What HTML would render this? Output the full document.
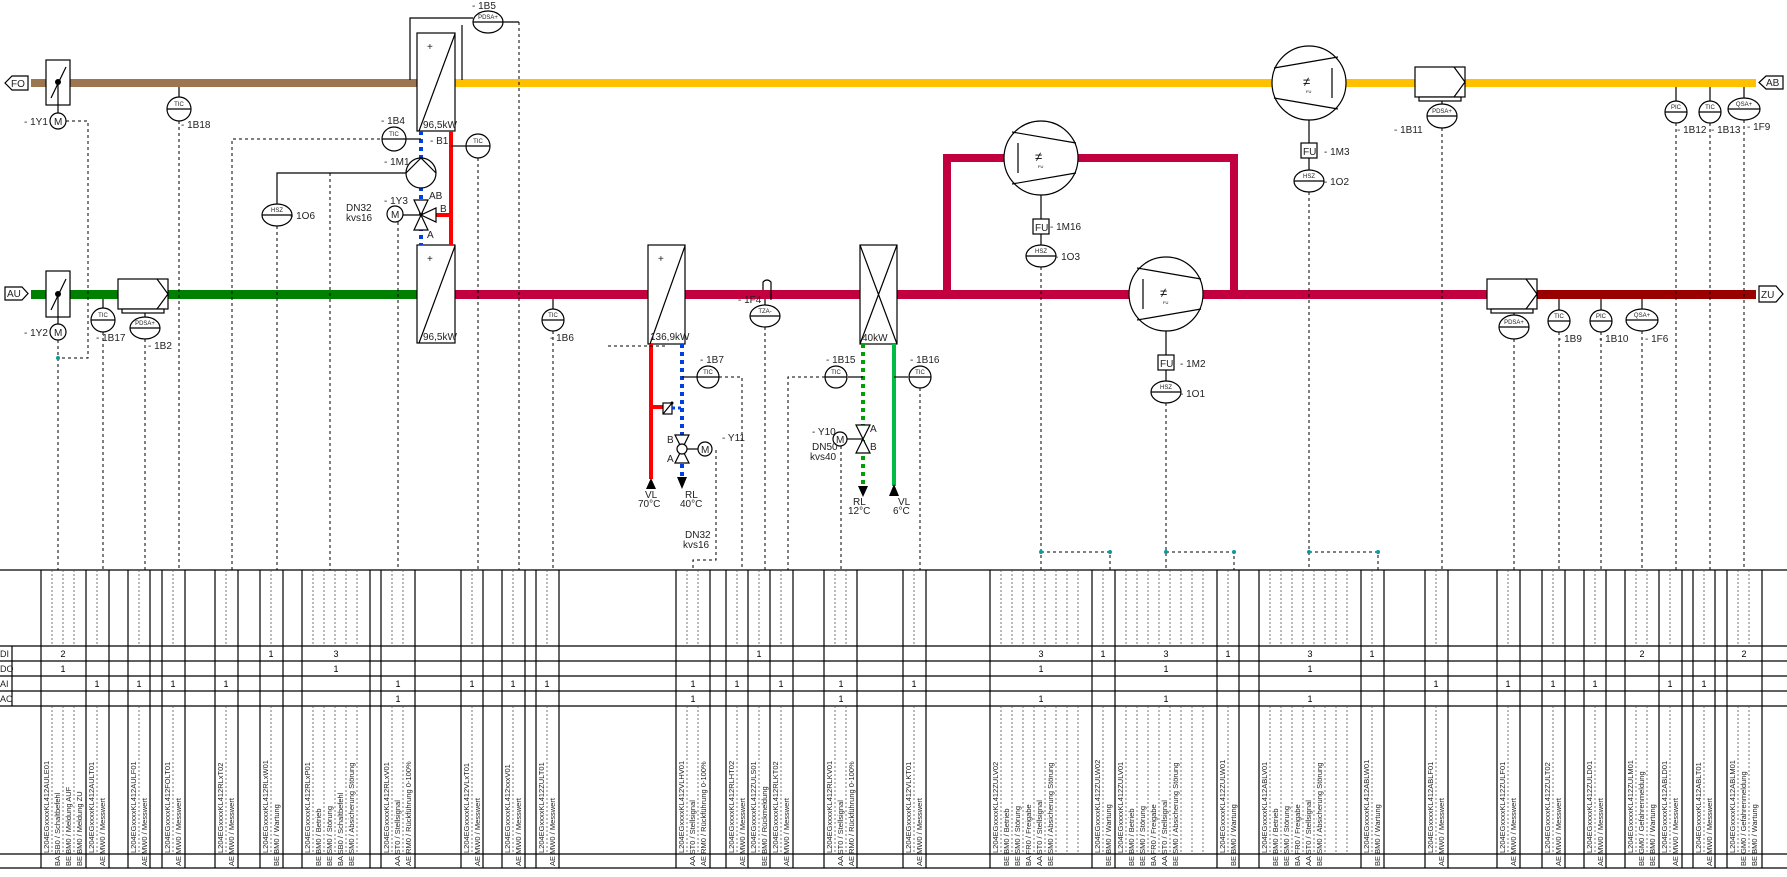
<!DOCTYPE html>
<html><head><meta charset="utf-8"><style>
html,body{margin:0;padding:0;background:#fff;}
svg{display:block;font-family:"Liberation Sans",sans-serif;}
.l{font-size:10px;fill:#222;}
.s{font-size:6px;fill:#222;}
.t{font-size:7.5px;fill:#222;}
.n{font-size:9px;fill:#000;text-anchor:middle;}
.d{stroke:#000;stroke-width:1;stroke-dasharray:3,3;fill:none;}
.dt{stroke:#555;stroke-width:0.8;stroke-dasharray:2,2;fill:none;}
.k{stroke:#000;stroke-width:1.2;fill:none;}
.w{stroke:#000;stroke-width:1.2;fill:#fff;}
</style></head><body>
<svg width="1787" height="877" viewBox="0 0 1787 877" xmlns="http://www.w3.org/2000/svg">
<!-- pipes -->
<rect x="31" y="79" width="386" height="8" fill="#9C7650"/>
<rect x="455" y="79" width="1301" height="8" fill="#FFC000"/>
<rect x="31" y="290" width="386" height="9" fill="#008000"/>
<rect x="455" y="290" width="1032" height="9" fill="#C2003F"/>
<rect x="1537" y="290" width="219" height="9" fill="#990000"/>
<path d="M947 299 V158 H1234 V299" stroke="#C2003F" stroke-width="8" fill="none"/>
<!-- arrows -->
<path d="M28 76 H12 L5 83 L12 90 H28 Z" class="w"/><text x="11" y="87" class="l">FO</text>
<path d="M5 287 H22 L28 293.5 L22 300 H5 Z" class="w"/><text x="7" y="297" class="l">AU</text>
<path d="M1783 76 H1766 L1759 82.5 L1766 89 H1783 Z" class="w"/><text x="1766" y="86" class="l">AB</text>
<path d="M1759 286 H1776 L1783 294 L1776 302 H1759 Z" class="w"/><text x="1761" y="298" class="l">ZU</text>
<!-- dampers -->
<rect x="46" y="60" width="24" height="45" class="w"/><line x1="51" y1="98" x2="66" y2="67" class="k"/><circle cx="58" cy="82" r="3" fill="#000"/><line x1="58" y1="82" x2="58" y2="113" class="k"/>
<circle cx="58" cy="121" r="8" class="w"/><text x="54" y="125" class="l">M</text><text x="24" y="125" class="l">- 1Y1</text>
<rect x="46" y="271" width="24" height="46" class="w"/><line x1="51" y1="310" x2="66" y2="279" class="k"/><circle cx="58" cy="294" r="3" fill="#000"/><line x1="58" y1="294" x2="58" y2="324" class="k"/>
<circle cx="58" cy="332" r="8" class="w"/><text x="54" y="336" class="l">M</text><text x="24" y="336" class="l">- 1Y2</text>
<!-- filters -->
<rect x="118" y="279" width="50" height="30" class="w"/><path d="M157 279 L168 294 L157 309" class="k"/><rect x="122" y="309" width="42" height="4" class="w"/>
<rect x="1415" y="67" width="50" height="30" class="w"/><path d="M1454 67 L1465 82 L1454 97" class="k"/><rect x="1419" y="97" width="42" height="4" class="w"/>
<rect x="1487" y="279" width="50" height="30" class="w"/><path d="M1526 279 L1537 294 L1526 309" class="k"/><rect x="1491" y="309" width="42" height="4" class="w"/>
<!-- heat exchangers -->
<path d="M410 80 V18 H473 M462 80 V25" class="k"/>
<path d="M500 22 H519" class="k"/>
<rect x="417" y="33" width="38" height="98" class="w"/><line x1="419" y1="131" x2="455" y2="34" class="k"/><text x="427" y="50" class="l">+</text><text x="423" y="128" class="l">96,5kW</text>
<rect x="417" y="245" width="38" height="98" class="w"/><line x1="419" y1="343" x2="455" y2="246" class="k"/><text x="427" y="262" class="l">+</text><text x="423" y="340" class="l">96,5kW</text>
<rect x="648" y="245" width="37" height="99" class="w"/><line x1="650" y1="344" x2="685" y2="246" class="k"/><text x="658" y="262" class="l">+</text><text x="650" y="340" class="l">136,9kW</text>
<rect x="860" y="245" width="37" height="99" class="w"/><path d="M860 245 L897 344 M897 245 L860 344" class="k"/><text x="862" y="341" class="l">40kW</text>
<!-- water circuit 1 -->
<line x1="421" y1="131" x2="421" y2="245" stroke="#0040E0" stroke-width="4" stroke-dasharray="4,4"/>
<line x1="451" y1="131" x2="451" y2="245" stroke="#FF0000" stroke-width="4"/>
<line x1="436" y1="215" x2="451" y2="215" stroke="#FF0000" stroke-width="4"/>
<line x1="406" y1="139" x2="421" y2="139" class="k"/>
<line x1="451" y1="146" x2="466" y2="146" class="k"/>
<circle cx="421" cy="173" r="15" class="w"/><path d="M406 173 L421 158 L436 173" class="k"/>
<path d="M406 173 H277 V204" class="k"/>
<path d="M414 200 H428 L421 215 Z M414 230 H428 L421 215 Z M436 208 V222 L421 215 Z" class="w"/>
<line x1="403" y1="215" x2="421" y2="215" class="k"/>
<circle cx="395" cy="214" r="8" class="w"/><text x="391" y="218" class="l">M</text>
<text x="429" y="199" class="l">AB</text><text x="440" y="212" class="l">B</text><text x="427" y="238" class="l">A</text>
<text x="384" y="204" class="l">- 1Y3</text><text x="384" y="165" class="l">- 1M1</text><text x="381" y="124" class="l">- 1B4</text><text x="430" y="144" class="l">- B1</text>
<text x="346" y="211" class="l">DN32</text><text x="346" y="221" class="l">kvs16</text>
<!-- heater circuit -->
<line x1="651" y1="344" x2="651" y2="479" stroke="#FF0000" stroke-width="4"/>
<line x1="651" y1="407" x2="663" y2="407" stroke="#FF0000" stroke-width="4"/>
<rect x="663" y="403" width="9" height="11" class="w"/><line x1="663" y1="414" x2="672" y2="403" class="k"/><circle cx="672" cy="403" r="1.5" fill="#000"/>
<line x1="672" y1="408" x2="682" y2="408" stroke="#0040E0" stroke-width="3" stroke-dasharray="3,3"/>
<line x1="682" y1="344" x2="682" y2="477" stroke="#0040E0" stroke-width="4" stroke-dasharray="4,4"/>
<path d="M646 489 H656 L651 478 Z" fill="#000"/><path d="M677 477 H687 L682 489 Z" fill="#000"/>
<text x="645" y="498" class="l">VL</text><text x="638" y="507" class="l">70°C</text>
<text x="685" y="498" class="l">RL</text><text x="680" y="507" class="l">40°C</text>
<line x1="682" y1="377" x2="697" y2="377" class="k"/>
<path d="M675 435 H689 L682 449 Z M675 463 H689 L682 449 Z" class="w"/><circle cx="682" cy="449" r="5" class="w"/>
<line x1="687" y1="449" x2="698" y2="449" class="k"/><circle cx="705" cy="449" r="7" class="w"/><text x="701" y="453" class="l">M</text>
<text x="667" y="443" class="l">B</text><text x="667" y="462" class="l">A</text><text x="722" y="441" class="l">- Y11</text><text x="700" y="363" class="l">- 1B7</text>
<text x="685" y="538" class="l">DN32</text><text x="683" y="548" class="l">kvs16</text>
<!-- cooler circuit -->
<line x1="863" y1="344" x2="863" y2="486" stroke="#00A000" stroke-width="4" stroke-dasharray="4,4"/>
<line x1="894" y1="344" x2="894" y2="486" stroke="#00BB44" stroke-width="4"/>
<path d="M858 486 H868 L863 497 Z" fill="#000"/><path d="M889 496 H899 L894 484 Z" fill="#000"/>
<text x="853" y="505" class="l">RL</text><text x="848" y="514" class="l">12°C</text><text x="898" y="505" class="l">VL</text><text x="893" y="514" class="l">6°C</text>
<path d="M856 425 H870 L863 439 Z M856 453 H870 L863 439 Z" class="w"/>
<line x1="847" y1="439" x2="863" y2="439" class="k"/><circle cx="840" cy="439" r="7" class="w"/><text x="836" y="443" class="l">M</text>
<text x="870" y="432" class="l">A</text><text x="870" y="450" class="l">B</text>
<text x="812" y="435" class="l">- Y10</text><text x="812" y="450" class="l">DN50</text><text x="810" y="460" class="l">kvs40</text>
<line x1="848" y1="377" x2="863" y2="377" class="k"/><line x1="894" y1="377" x2="908" y2="377" class="k"/>
<text x="826" y="363" class="l">- 1B15</text><text x="910" y="363" class="l">- 1B16</text>
<!-- TZA -->
<path d="M763 290 V282 Q767 278 771 282 V300" class="k"/>
<line x1="765" y1="299" x2="765" y2="305" class="k"/>
<text x="738" y="303" class="l">- 1F4</text>
<!-- instrument stems -->
<path d="M179 87 V97 M103 299 V308 M145 313 V317 M553 299 V309 M1442 101 V104 M1514 313 V316 M1559 299 V310 M1601 299 V310 M1642 299 V309 M1676 87 V101 M1710 87 V101 M1744 87 V98" class="k"/>
<!-- circle instruments -->
<g class="w">
<circle cx="179" cy="109" r="12"/><circle cx="394" cy="139" r="12"/><circle cx="478" cy="146" r="12"/><circle cx="103" cy="320" r="12"/><circle cx="553" cy="320" r="11"/><circle cx="708" cy="377" r="11"/><circle cx="836" cy="377" r="11"/><circle cx="920" cy="377" r="11"/><circle cx="1559" cy="321" r="11"/><circle cx="1601" cy="321" r="11"/><circle cx="1676" cy="112" r="11"/><circle cx="1710" cy="112" r="11"/>
<ellipse cx="488" cy="22" rx="15" ry="11"/><ellipse cx="145" cy="328" rx="15" ry="11"/><ellipse cx="277" cy="215" rx="15" ry="11"/><ellipse cx="765" cy="316" rx="15" ry="11"/><ellipse cx="1041" cy="256" rx="15" ry="11"/><ellipse cx="1166" cy="392" rx="15" ry="11"/><ellipse cx="1309" cy="181" rx="15" ry="11"/><ellipse cx="1442" cy="116" rx="15" ry="12"/><ellipse cx="1514" cy="327" rx="15" ry="12"/><ellipse cx="1642" cy="320" rx="16" ry="11"/><ellipse cx="1744" cy="109" rx="16" ry="11"/>
</g>
<path d="M167 109 H191 M382 139 H406 M466 146 H490 M91 320 H115 M542 320 H564 M697 377 H719 M825 377 H847 M909 377 H931 M1548 321 H1570 M1590 321 H1612 M1665 112 H1687 M1699 112 H1721 M473 22 H503 M130 328 H160 M262 215 H292 M750 316 H780 M1026 256 H1056 M1151 392 H1181 M1294 181 H1324 M1427 116 H1457 M1499 327 H1529 M1626 320 H1658 M1728 109 H1760" class="k"/>
<g class="s" text-anchor="middle">
<text x="179" y="106">TIC</text><text x="394" y="136">TIC</text><text x="478" y="143">TIC</text><text x="103" y="317">TIC</text><text x="553" y="317">TIC</text><text x="708" y="374">TIC</text><text x="836" y="374">TIC</text><text x="920" y="374">TIC</text><text x="1559" y="318">TIC</text><text x="1601" y="318">PIC</text><text x="1676" y="109">PIC</text><text x="1710" y="109">TIC</text>
<text x="488" y="19">PDSA+</text><text x="145" y="325">PDSA+</text><text x="277" y="212">HSZ</text><text x="765" y="313">TZA-</text><text x="1041" y="253">HSZ</text><text x="1166" y="389">HSZ</text><text x="1309" y="178">HSZ</text><text x="1442" y="113">PDSA+</text><text x="1514" y="324">PDSA+</text><text x="1642" y="317">QSA+</text><text x="1744" y="106">QSA+</text>
</g>
<!-- fans -->
<g>
<circle cx="1041" cy="158" r="37" class="w"/><path d="M1012 132 L1076 143 M1012 184 L1076 173 M1018 143 V173" class="k"/>
<circle cx="1166" cy="294" r="37" class="w"/><path d="M1137 268 L1201 279 M1137 320 L1201 309 M1143 279 V309" class="k"/>
<circle cx="1309" cy="83" r="37" class="w"/><path d="M1338 57 L1274 68 M1338 109 L1274 98 M1332 68 V98" class="k"/>
<path d="M1041 195 V219 M1041 234 V245 M1166 331 V355 M1166 370 V381 M1309 120 V143 M1309 158 V170" class="k"/>
<rect x="1033" y="219" width="16" height="15" class="w"/><rect x="1158" y="355" width="16" height="15" class="w"/><rect x="1301" y="143" width="16" height="15" class="w"/>
<text x="1035" y="231" class="l">FU</text><text x="1160" y="367" class="l">FU</text><text x="1303" y="155" class="l">FU</text>
<text x="1035" y="161" style="font-size:13px">≠</text><text x="1160" y="297" style="font-size:13px">≠</text><text x="1303" y="86" style="font-size:13px">≠</text>
<text x="1038" y="168" style="font-size:4px">FU</text><text x="1163" y="304" style="font-size:4px">FU</text><text x="1306" y="93" style="font-size:4px">FU</text>
</g>
<!-- labels -->
<g class="l">
<text x="472" y="9">- 1B5</text><text x="181" y="128">- 1B18</text><text x="96" y="341">- 1B17</text><text x="148" y="349">- 1B2</text><text x="290" y="219">- 1O6</text><text x="550" y="341">- 1B6</text>
<text x="1050" y="230">- 1M16</text><text x="1055" y="260">- 1O3</text><text x="1180" y="367">- 1M2</text><text x="1180" y="397">- 1O1</text><text x="1324" y="155">- 1M3</text><text x="1324" y="185">- 1O2</text>
<text x="1394" y="133">- 1B11</text><text x="1677" y="133">- 1B12</text><text x="1711" y="133">- 1B13</text><text x="1747" y="130">- 1F9</text><text x="1558" y="342">- 1B9</text><text x="1599" y="342">- 1B10</text><text x="1645" y="342">- 1F6</text>
</g>
<!-- dashed signal lines -->
<path class="d" d="M66 121 H88 V358 H58 M58 340 V570 M103 332 V570 M145 339 V570 M179 121 V570 M232 570 V139 H382 M277 226 V570 M330 173 V570 M398 222 V570 M478 158 V570 M519 22 V570 M553 331 V570 M608 346 H668 M716 450 V560 H693 V570 M719 377 H742 V570 M765 327 V570 M825 377 H788 V570 M841 446 V570 M920 388 V570 M1041 267 V570 M1041 552 H1110 V570 M1166 403 V570 M1166 552 H1234 V570 M1309 192 V570 M1309 552 H1378 V570 M1442 128 V570 M1514 339 V570 M1559 332 V570 M1601 332 V570 M1642 331 V570 M1676 123 V570 M1710 123 V570 M1744 120 V570"/>
<g fill="#0a9a9a"><circle cx="58" cy="358" r="2"/><circle cx="1041" cy="552" r="2"/><circle cx="1110" cy="552" r="2"/><circle cx="1166" cy="552" r="2"/><circle cx="1234" cy="552" r="2"/><circle cx="1309" cy="552" r="2"/><circle cx="1378" cy="552" r="2"/></g>
<!-- table -->
<path d="M0 570 H1787 M0 646 H1787 M0 661 H1787 M0 676 H1787 M0 691 H1787 M0 706 H1787 M0 854 H1787 M0 868 H1787" stroke="#000" stroke-width="1.2"/>
<path d="M12 646 V706" stroke="#000" stroke-width="1.2"/>
<g class="s" style="font-size:9px"><text x="0" y="657">DI</text><text x="0" y="672">DO</text><text x="0" y="687">AI</text><text x="0" y="702">AO</text></g>
<path stroke="#000" stroke-width="1.2" d="M41 570V868M86 570V868M109 570V868M128 570V868M150 570V868M162 570V868M185 570V868M215 570V868M238 570V868M260 570V868M283 570V868M302 570V868M370 570V868M381 570V868M415 570V868M461 570V868M483 570V868M502 570V868M525 570V868M536 570V868M559 570V868M676 570V868M710 570V868M726 570V868M748 570V868M770 570V868M793 570V868M824 570V868M857 570V868M903 570V868M926 570V868M990 570V868M1092 570V868M1115 570V868M1217 570V868M1239 570V868M1259 570V868M1361 570V868M1384 570V868M1425 570V868M1448 570V868M1497 570V868M1520 570V868M1542 570V868M1565 570V868M1584 570V868M1606 570V868M1625 570V868M1659 570V868M1682 570V868M1693 570V868M1715 570V868M1727 570V868M1762 570V868"/>
<path class="dt" d="M52 570V646M52 706V854M63 570V646M63 706V854M74 570V646M74 706V854M97 570V646M97 706V854M139 570V646M139 706V854M173 570V646M173 706V854M226 570V646M226 706V854M271 570V646M271 706V854M313 570V646M313 706V854M324 570V646M324 706V854M335 570V646M335 706V854M346 570V646M346 706V854M357 570V646M357 706V854M392 570V646M392 706V854M403 570V646M403 706V854M472 570V646M472 706V854M513 570V646M513 706V854M547 570V646M547 706V854M687 570V646M687 706V854M698 570V646M698 706V854M737 570V646M737 706V854M759 570V646M759 706V854M781 570V646M781 706V854M835 570V646M835 706V854M846 570V646M846 706V854M914 570V646M914 706V854M1001 570V646M1001 706V854M1012 570V646M1012 706V854M1023 570V646M1023 706V854M1034 570V646M1034 706V854M1045 570V646M1045 706V854M1056 570V646M1056 706V854M1067 570V646M1067 706V854M1078 570V646M1078 706V854M1103 570V646M1103 706V854M1126 570V646M1126 706V854M1137 570V646M1137 706V854M1148 570V646M1148 706V854M1159 570V646M1159 706V854M1170 570V646M1170 706V854M1181 570V646M1181 706V854M1192 570V646M1192 706V854M1203 570V646M1203 706V854M1228 570V646M1228 706V854M1270 570V646M1270 706V854M1281 570V646M1281 706V854M1292 570V646M1292 706V854M1303 570V646M1303 706V854M1314 570V646M1314 706V854M1325 570V646M1325 706V854M1336 570V646M1336 706V854M1347 570V646M1347 706V854M1372 570V646M1372 706V854M1436 570V646M1436 706V854M1508 570V646M1508 706V854M1553 570V646M1553 706V854M1595 570V646M1595 706V854M1636 570V646M1636 706V854M1647 570V646M1647 706V854M1670 570V646M1670 706V854M1704 570V646M1704 706V854M1738 570V646M1738 706V854M1749 570V646M1749 706V854"/>
<!-- numbers -->
<g class="n">
<text x="63" y="657">2</text><text x="63" y="672">1</text><text x="97" y="687">1</text><text x="139" y="687">1</text><text x="173" y="687">1</text><text x="226" y="687">1</text><text x="271" y="657">1</text><text x="336" y="657">3</text><text x="336" y="672">1</text><text x="398" y="687">1</text><text x="398" y="702">1</text><text x="472" y="687">1</text>
<text x="513" y="687">1</text><text x="547" y="687">1</text><text x="693" y="687">1</text><text x="693" y="702">1</text><text x="737" y="687">1</text><text x="759" y="657">1</text><text x="781" y="687">1</text><text x="841" y="687">1</text><text x="841" y="702">1</text><text x="914" y="687">1</text>
<text x="1041" y="657">3</text><text x="1041" y="672">1</text><text x="1041" y="702">1</text><text x="1103" y="657">1</text><text x="1166" y="657">3</text><text x="1166" y="672">1</text><text x="1166" y="702">1</text><text x="1228" y="657">1</text><text x="1310" y="657">3</text><text x="1310" y="672">1</text><text x="1310" y="702">1</text><text x="1372" y="657">1</text>
<text x="1436" y="687">1</text><text x="1508" y="687">1</text><text x="1553" y="687">1</text><text x="1595" y="687">1</text><text x="1642" y="657">2</text><text x="1670" y="687">1</text><text x="1704" y="687">1</text><text x="1744" y="657">2</text>
</g>
<!-- vertical texts -->
<g class="t">
<text transform="translate(49,853) rotate(-90)">L204EGxxxxKL412AULE01</text><text transform="translate(60,866) rotate(-90)">BA SB0 / Schaltbefehl</text><text transform="translate(71,866) rotate(-90)">BE BM0 / Meldung AUF</text><text transform="translate(82,866) rotate(-90)">BE BM0 / Meldung ZU</text>
<text transform="translate(94,853) rotate(-90)">L204EGxxxxKL412AULT01</text><text transform="translate(105,866) rotate(-90)">AE MW0 / Messwert</text>
<text transform="translate(136,853) rotate(-90)">L204EGxxxxKL412AULF01</text><text transform="translate(147,866) rotate(-90)">AE MW0 / Messwert</text>
<text transform="translate(170,853) rotate(-90)">L204EGxxxxKL412FOLT01</text><text transform="translate(181,866) rotate(-90)">AE MW0 / Messwert</text>
<text transform="translate(223,853) rotate(-90)">L204EGxxxxKL412RLxT02</text><text transform="translate(234,866) rotate(-90)">AE MW0 / Messwert</text>
<text transform="translate(268,853) rotate(-90)">L204EGxxxxKL412RLxW01</text><text transform="translate(279,866) rotate(-90)">BE BM0 / Wartung</text>
<text transform="translate(310,853) rotate(-90)">L204EGxxxxKL412RLxP01</text><text transform="translate(321,866) rotate(-90)">BE BM0 / Betrieb</text><text transform="translate(332,866) rotate(-90)">BE SM0 / Störung</text><text transform="translate(343,866) rotate(-90)">BA SB0 / Schaltbefehl</text><text transform="translate(354,866) rotate(-90)">BE SM0 / Absicherung Störung</text>
<text transform="translate(389,853) rotate(-90)">L204EGxxxxKL412RLxV01</text><text transform="translate(400,866) rotate(-90)">AA ST0 / Stellsignal</text><text transform="translate(411,866) rotate(-90)">AE RM0 / Rückführung 0-100%</text>
<text transform="translate(469,853) rotate(-90)">L204EGxxxxKL412VLxT01</text><text transform="translate(480,866) rotate(-90)">AE MW0 / Messwert</text>
<text transform="translate(510,853) rotate(-90)">L204EGxxxxKL412xxxV01</text><text transform="translate(521,866) rotate(-90)">AE MW0 / Messwert</text>
<text transform="translate(544,853) rotate(-90)">L204EGxxxxKL412ZULT01</text><text transform="translate(555,866) rotate(-90)">AE MW0 / Messwert</text>
<text transform="translate(684,853) rotate(-90)">L204EGxxxxKL412VLHV01</text><text transform="translate(695,866) rotate(-90)">AA ST0 / Stellsignal</text><text transform="translate(706,866) rotate(-90)">AE RM0 / Rückführung 0-100%</text>
<text transform="translate(734,853) rotate(-90)">L204EGxxxxKL412RLHT02</text><text transform="translate(745,866) rotate(-90)">AE MW0 / Messwert</text>
<text transform="translate(756,853) rotate(-90)">L204EGxxxxKL412ZULS01</text><text transform="translate(767,866) rotate(-90)">BE BM0 / Rückmeldung</text>
<text transform="translate(778,853) rotate(-90)">L204EGxxxxKL412RLKT02</text><text transform="translate(789,866) rotate(-90)">AE MW0 / Messwert</text>
<text transform="translate(832,853) rotate(-90)">L204EGxxxxKL412RLKV01</text><text transform="translate(843,866) rotate(-90)">AA ST0 / Stellsignal</text><text transform="translate(854,866) rotate(-90)">AE RM0 / Rückführung 0-100%</text>
<text transform="translate(911,853) rotate(-90)">L204EGxxxxKL412VLKT01</text><text transform="translate(922,866) rotate(-90)">AE MW0 / Messwert</text>
<text transform="translate(998,853) rotate(-90)">L204EGxxxxKL412ZULV02</text><text transform="translate(1009,866) rotate(-90)">BE BM0 / Betrieb</text><text transform="translate(1020,866) rotate(-90)">BE SM0 / Störung</text><text transform="translate(1031,866) rotate(-90)">BA FR0 / Freigabe</text><text transform="translate(1042,866) rotate(-90)">AA ST0 / Stellsignal</text><text transform="translate(1053,866) rotate(-90)">BE SM0 / Absicherung Störung</text>
<text transform="translate(1100,853) rotate(-90)">L204EGxxxxKL412ZULW02</text><text transform="translate(1111,866) rotate(-90)">BE BM0 / Wartung</text>
<text transform="translate(1123,853) rotate(-90)">L204EGxxxxKL412ZULV01</text><text transform="translate(1134,866) rotate(-90)">BE BM0 / Betrieb</text><text transform="translate(1145,866) rotate(-90)">BE SM0 / Störung</text><text transform="translate(1156,866) rotate(-90)">BA FR0 / Freigabe</text><text transform="translate(1167,866) rotate(-90)">AA ST0 / Stellsignal</text><text transform="translate(1178,866) rotate(-90)">BE SM0 / Absicherung Störung</text>
<text transform="translate(1225,853) rotate(-90)">L204EGxxxxKL412ZULW01</text><text transform="translate(1236,866) rotate(-90)">BE BM0 / Wartung</text>
<text transform="translate(1267,853) rotate(-90)">L204EGxxxxKL412ABLV01</text><text transform="translate(1278,866) rotate(-90)">BE BM0 / Betrieb</text><text transform="translate(1289,866) rotate(-90)">BE SM0 / Störung</text><text transform="translate(1300,866) rotate(-90)">BA FR0 / Freigabe</text><text transform="translate(1311,866) rotate(-90)">AA ST0 / Stellsignal</text><text transform="translate(1322,866) rotate(-90)">BE SM0 / Absicherung Störung</text>
<text transform="translate(1369,853) rotate(-90)">L204EGxxxxKL412ABLW01</text><text transform="translate(1380,866) rotate(-90)">BE BM0 / Wartung</text>
<text transform="translate(1433,853) rotate(-90)">L204EGxxxxKL412ABLF01</text><text transform="translate(1444,866) rotate(-90)">AE MW0 / Messwert</text>
<text transform="translate(1505,853) rotate(-90)">L204EGxxxxKL412ZULF01</text><text transform="translate(1516,866) rotate(-90)">AE MW0 / Messwert</text>
<text transform="translate(1550,853) rotate(-90)">L204EGxxxxKL412ZULT02</text><text transform="translate(1561,866) rotate(-90)">AE MW0 / Messwert</text>
<text transform="translate(1592,853) rotate(-90)">L204EGxxxxKL412ZULD01</text><text transform="translate(1603,866) rotate(-90)">AE MW0 / Messwert</text>
<text transform="translate(1633,853) rotate(-90)">L204EGxxxxKL412ZULM01</text><text transform="translate(1644,866) rotate(-90)">BE GM0 / Gefahrenmeldung</text><text transform="translate(1655,866) rotate(-90)">BE BM0 / Wartung</text>
<text transform="translate(1667,853) rotate(-90)">L204EGxxxxKL412ABLD01</text><text transform="translate(1678,866) rotate(-90)">AE MW0 / Messwert</text>
<text transform="translate(1701,853) rotate(-90)">L204EGxxxxKL412ABLT01</text><text transform="translate(1712,866) rotate(-90)">AE MW0 / Messwert</text>
<text transform="translate(1735,853) rotate(-90)">L204EGxxxxKL412ABLM01</text><text transform="translate(1746,866) rotate(-90)">BE GM0 / Gefahrenmeldung</text><text transform="translate(1757,866) rotate(-90)">BE BM0 / Wartung</text>
</g>
</svg>
</body></html>
